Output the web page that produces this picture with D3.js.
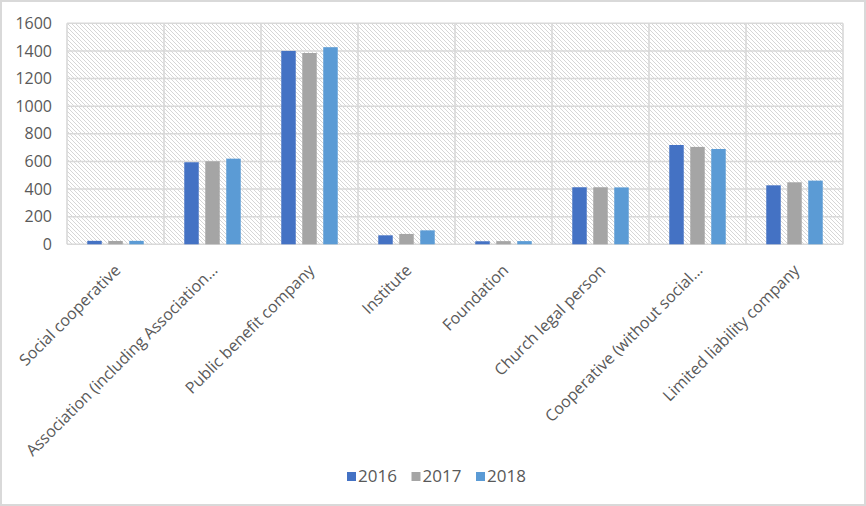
<!DOCTYPE html>
<html>
<head>
<meta charset="utf-8">
<script src="https://cdn.jsdelivr.net/npm/d3@7"></script>
<style>
  html, body { margin: 0; padding: 0; background: #fff; }
  svg { display: block; }
  text { font-family: "Open Sans", "Noto Sans", sans-serif; fill: #595959; }
</style>
</head>
<body>
<svg id="chart" width="866" height="506"></svg>
<script>
const categories = [
  "Social cooperative",
  "Association (including Association\u2026",
  "Public benefit company",
  "Institute",
  "Foundation",
  "Church legal person",
  "Cooperative (without social\u2026",
  "Limited liability company"
];
const seriesNames = ["2016", "2017", "2018"];
const values2016 = [25, 594, 1400, 65, 22, 413, 719, 427];
const values2017 = [24, 601, 1385, 75, 23, 413, 705, 449];
const values2018 = [25, 620, 1427, 101, 23, 412, 690, 461];
const seriesColors = ["#4472C4", "#A5A5A5", "#5B9BD5"];
const yTicks = [0, 200, 400, 600, 800, 1000, 1200, 1400, 1600];

const seriesValues = [values2016, values2017, values2018];

const svg = d3.select("#chart");
const W = 866, H = 506;
const plot = { left: 67, right: 843, top: 23.3, bottom: 244.3 };

// outer border
svg.append("rect").attr("x", 1).attr("y", 1).attr("width", W - 2).attr("height", H - 2)
  .attr("fill", "#fff").attr("stroke", "#d9d9d9").attr("stroke-width", 2);

// hatch pattern
const defs = svg.append("defs");
const pat = defs.append("pattern").attr("id", "hatch").attr("patternUnits", "userSpaceOnUse")
  .attr("width", 4).attr("height", 4);
pat.append("rect").attr("width", 4).attr("height", 4).attr("fill", "#fff");
pat.append("path").attr("d", "M0,0L4,4M-1,3L1,5M3,-1L5,1")
  .attr("stroke", "#d6d6d6").attr("stroke-width", 1);

const x0 = d3.scaleBand().domain(categories).range([plot.left, plot.right]).padding(0);
const x1 = d3.scaleBand().domain(seriesNames).range([0, x0.bandwidth()])
  .paddingInner(0.31).paddingOuter(0.965);
const y = d3.scaleLinear().domain([0, 1600]).range([plot.bottom, plot.top]);

svg.append("rect").attr("x", plot.left).attr("y", plot.top)
  .attr("width", plot.right - plot.left).attr("height", plot.bottom - plot.top)
  .attr("fill", "url(#hatch)");

// horizontal gridlines
svg.append("g").selectAll("line").data(yTicks).join("line")
  .attr("x1", plot.left).attr("x2", plot.right)
  .attr("y1", d => y(d)).attr("y2", d => y(d))
  .attr("stroke", "#d9d9d9").attr("stroke-width", 1.6);

// vertical gridlines at category boundaries
const bounds = categories.map(c => x0(c)).concat([plot.right]);
svg.append("g").selectAll("line").data(bounds).join("line")
  .attr("x1", d => d).attr("x2", d => d)
  .attr("y1", plot.top).attr("y2", plot.bottom)
  .attr("stroke", "#d9d9d9").attr("stroke-width", 1.6);

// bars
const groups = svg.append("g").selectAll("g").data(categories).join("g")
  .attr("transform", c => `translate(${x0(c)},0)`);
groups.selectAll("rect").data((c, i) => seriesNames.map((s, j) => ({ s, v: seriesValues[j][i], j })))
  .join("rect")
  .attr("x", d => x1(d.s)).attr("width", x1.bandwidth())
  .attr("y", d => y(d.v)).attr("height", d => y(0) - y(d.v))
  .attr("fill", d => seriesColors[d.j]);

// y axis labels
const yAxis = d3.axisLeft(y).tickValues(yTicks).tickFormat(d3.format("d")).tickSize(0).tickPadding(0);
const yg = svg.append("g").attr("transform", `translate(52,0)`).call(yAxis);
yg.select(".domain").remove();
yg.selectAll("text").style("font-size", "16px").attr("fill", "#595959")
  .style("font-family", "'Open Sans', sans-serif");

// x labels
const xAxis = d3.axisBottom(x0).tickSize(0).tickPadding(0);
const xg = svg.append("g").attr("transform", `translate(0,${plot.bottom})`).call(xAxis);
xg.select(".domain").remove();
xg.selectAll("text")
  .style("font-size", "16px").style("font-family", "'Open Sans', sans-serif")
  .attr("fill", "#595959")
  .attr("text-anchor", "end")
  .attr("dy", 0).attr("y", 0)
  .attr("transform", "translate(6,27) rotate(-45)");

// legend
const legend = svg.append("g").attr("transform", "translate(347,472)");
const items = legend.selectAll("g").data(seriesNames).join("g")
  .attr("transform", (d, i) => `translate(${i * 64.5},0)`);
items.append("rect").attr("width", 9).attr("height", 9).attr("fill", (d, i) => seriesColors[i]);
items.append("text").attr("x", 11).attr("y", 4.5).attr("dy", "0.35em")
  .style("font-size", "17px").text(d => d);
</script>
</body>
</html>
